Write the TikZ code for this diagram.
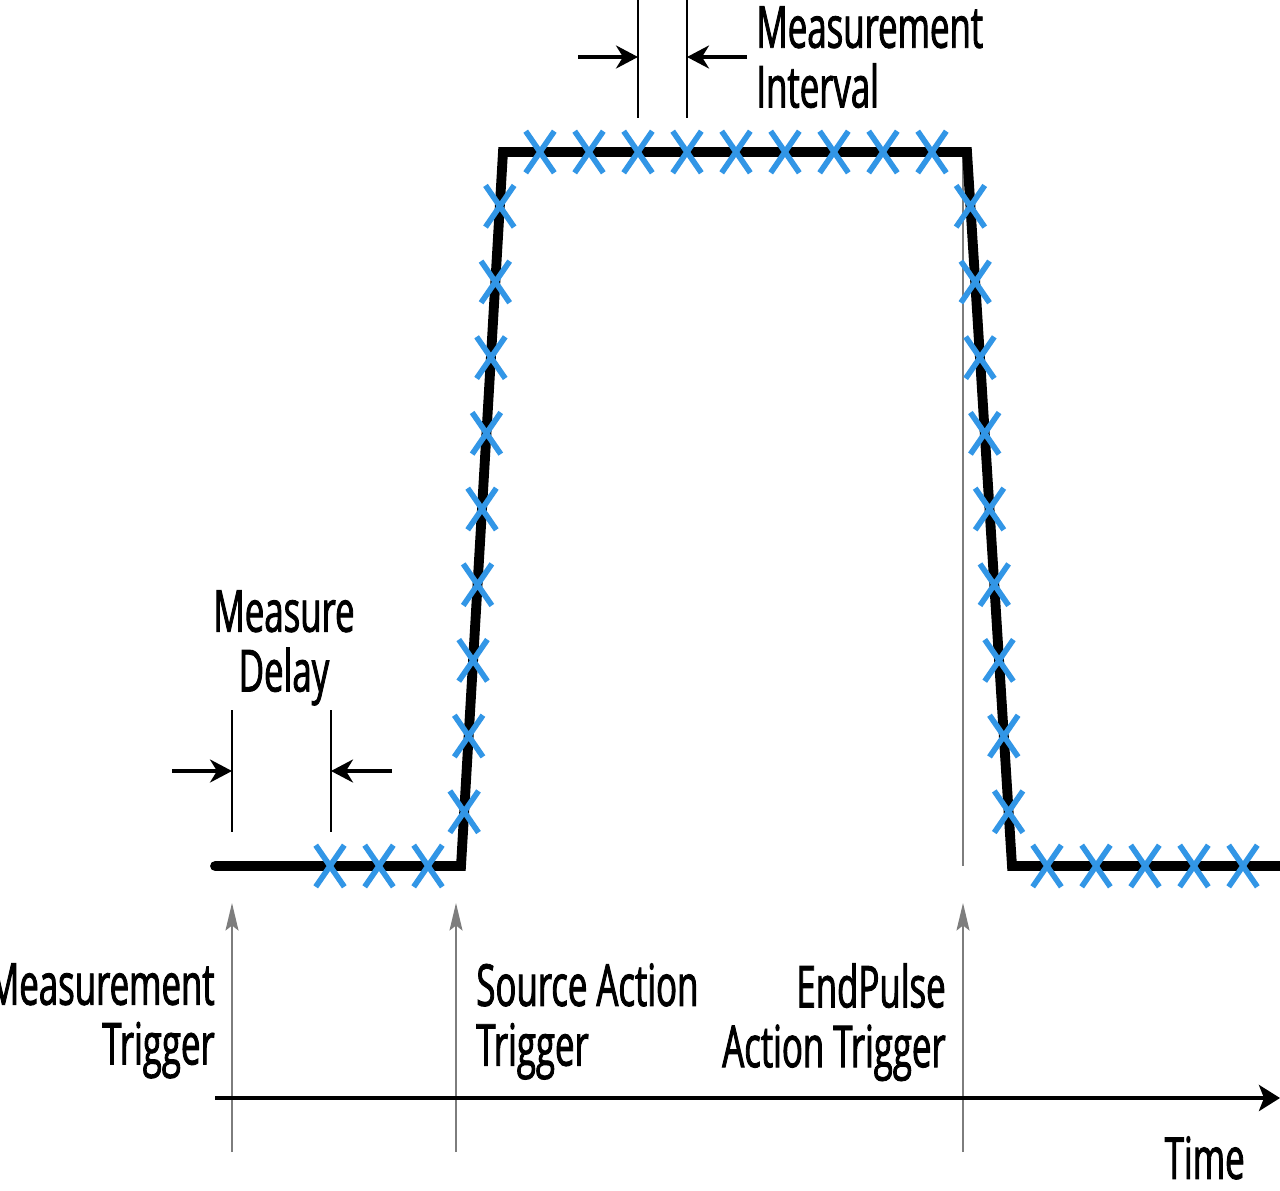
\documentclass[tikz,border=0pt]{standalone}
\usepackage{fontspec}
\setsansfont{Open Sans}[FakeStretch=0.6,FakeBold=1.5]
\usetikzlibrary{arrows.meta,shapes.misc}
\definecolor{xblue}{RGB}{50,150,230}
\definecolor{trgray}{RGB}{125,125,125}

\begin{document}
\begin{tikzpicture}[x=0.02cm,y=-0.02cm,>={Stealth[length=0.44cm,width=0.46cm,inset=0.14cm]},
        wave/.style={line width=5.6pt,line join=miter,line cap=round},
        xmark/.style={cross out,draw=xblue,line width=3.2pt,minimum width=0.46cm,minimum height=0.72cm,inner sep=0pt},
        dim/.style={line width=1.4pt},
        dimarrow/.style={->,line width=2pt},
        trig/.style={-{Stealth[length=0.55cm,width=0.26cm,inset=0.1cm]},draw=trgray,line width=1.1pt},
        label/.style={font=\sffamily\fontsize{33}{34}\selectfont,inner sep=0pt}]
        \useasboundingbox (0,0) rectangle (1280,1190);
        % pulse corners
        \coordinate (w0) at (215,866);
        \coordinate (w1) at (461,866);
        \coordinate (w2) at (503,152);
        \coordinate (w3) at (967,152);
        \coordinate (w4) at (1012,866);
        \coordinate (w5) at (1285,866);
        \draw[trgray,line width=1.1pt] (963,152) -- (963,866);
        \draw[wave] (w0) -- (w1) -- (w2) -- (w3) -- (w4) -- (w5);
        % samples
        \foreach \x in {330,379,428,1047,1096,1145,1194,1243}
            \node[xmark] at (\x,866) {};
        \foreach \x in {540,589,...,932}
            \node[xmark] at (\x,152) {};
        \foreach \p in {0.076,0.182,...,0.93} {
            \path (w1) -- (w2) node[xmark,pos=\p] {};
            \path (w3) -- (w4) node[xmark,pos=\p] {};
        }
        % measure delay
        \draw[dim] (232,710) -- (232,832);
        \draw[dim] (331,710) -- (331,832);
        \draw[dimarrow] (172,771) -- (232,771);
        \draw[dimarrow] (392,771) -- (331,771);
        \node[label,align=center,anchor=north] (delay) at (284,590) {Measure\\Delay};
        % measurement interval
        \draw[dim] (638,0) -- (638,118);
        \draw[dim] (687,0) -- (687,118);
        \draw[dimarrow] (578,57) -- (638,57);
        \draw[dimarrow] (747,57) -- (687,57);
        \node[label,align=left,anchor=north west] (interval) at (756,6) {Measurement\\Interval};
        % triggers
        \foreach \n/\x in {mt/232,st/456,et/963} {
            \coordinate (\n a) at (\x,1152);
            \coordinate (\n b) at (\x,903);
            \draw[trig] (\n a) -- (\n b);
        }
        \node[label,align=right,anchor=north east] (mtrig) at (215,963) {Measurement\\Trigger};
        \node[label,align=left,anchor=north west] (strig) at (476,963) {Source Action\\Trigger};
        \node[label,align=right,anchor=north east] (etrig) at (946,963) {EndPulse\\Action Trigger};
        % time axis
        \coordinate (t0) at (215,1098);
        \coordinate (t1) at (1280,1098);
        \draw[-{Stealth[length=0.42cm,width=0.52cm,inset=0.1cm]},line width=2.8pt] (t0) -- (t1);
        \node[label,anchor=north east] (time) at (1245,1136) {Time};
\end{tikzpicture}
\end{document}
